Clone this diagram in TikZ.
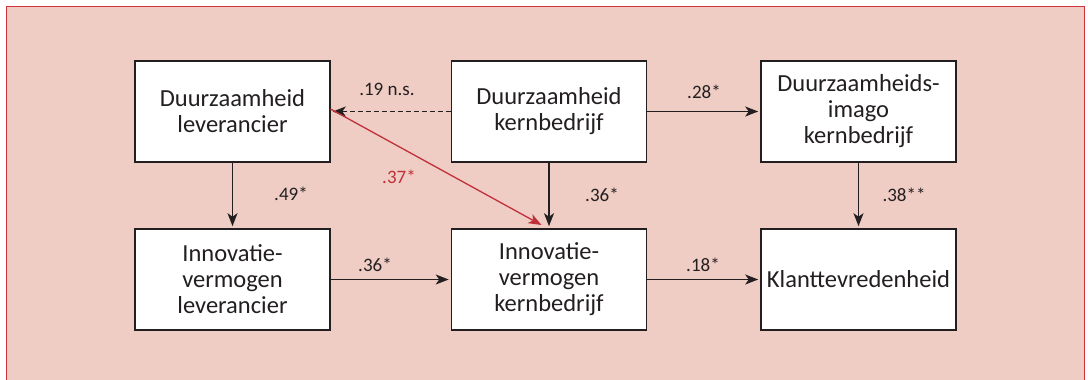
\documentclass[tikz,border=0pt]{standalone}
\usepackage{fontspec}
\setmainfont{Carlito}
\usetikzlibrary{arrows.meta}
\definecolor{bgpink}{HTML}{EFCDC4}
\definecolor{framered}{HTML}{D0343A}
\definecolor{txt}{HTML}{231F20}
\definecolor{redarrow}{HTML}{C0303A}
\tikzset{
  box/.style={draw=txt, line width=1.6pt, fill=white, minimum width=195pt, minimum height=101pt,
    inner sep=0pt, align=center, text=txt, font=\fontsize{24.5}{26}\selectfont},
  conn/.style={draw=txt, line width=1.5pt, -{Stealth[length=13pt,width=10pt,inset=3.5pt]}, shorten >=2pt},
  lbl/.style={text=txt, font=\fontsize{19}{21}\selectfont, inner sep=0pt},
}
\begin{document}
\begin{tikzpicture}[x=1pt,y=-1pt]
\useasboundingbox (0,0) rectangle (1088,380);
\clip (0,0) rectangle (1088,380);
\draw[framered, line width=1.2pt, fill=bgpink] (6.5,6.5) rectangle (1084.5,420);
\node[box] (dl) at (232.5,111.5) {Duurzaamheid\\leverancier};
\node[box] (il) at (232.5,279.5) {Innovatie-\\vermogen\\leverancier};
\node[box] (dk) at (549,111.5) {Duurzaamheid\\kernbedrijf};
\node[box] (ik) at (549,279.5) {Innovatie-\\vermogen\\kernbedrijf};
\node[box] (di) at (858.5,111.5) {Duurzaamheids-\\imago\\kernbedrijf};
\node[box] (kl) at (858.5,279.5) {Klanttevredenheid};
\coordinate (redend) at (541.5,225);
\coordinate (redstart) at (330.5,109);
\draw[conn, dash pattern=on 5pt off 3pt] (dk.west) -- (dl.east);
\draw[conn] (dk.east) -- (di.west);
\draw[conn] (dl.south) -- (il.north);
\draw[conn] (dk.south) -- (ik.north);
\draw[conn] (di.south) -- (kl.north);
\draw[conn] (il.east) -- (ik.west);
\draw[conn] (ik.east) -- (kl.west);
\draw[conn, draw=redarrow, line width=1.3pt, shorten >=0pt, -{Stealth[length=13pt,width=10pt,inset=3.5pt,fill=redarrow]}] (redstart) -- (redend);
\node[lbl] (l19) at (387,89) {.19 n.s.};
\node[lbl] (l28) at (704,92) {.28*};
\node[lbl] (l49) at (291,194) {.49*};
\node[lbl, text=redarrow] (l37) at (399,177) {.37*};
\node[lbl] (l36a) at (602,195) {.36*};
\node[lbl] (l38) at (904,195) {.38**};
\node[lbl] (l36b) at (375,265) {.36*};
\node[lbl] (l18) at (703,265) {.18*};
\end{tikzpicture}
\end{document}
